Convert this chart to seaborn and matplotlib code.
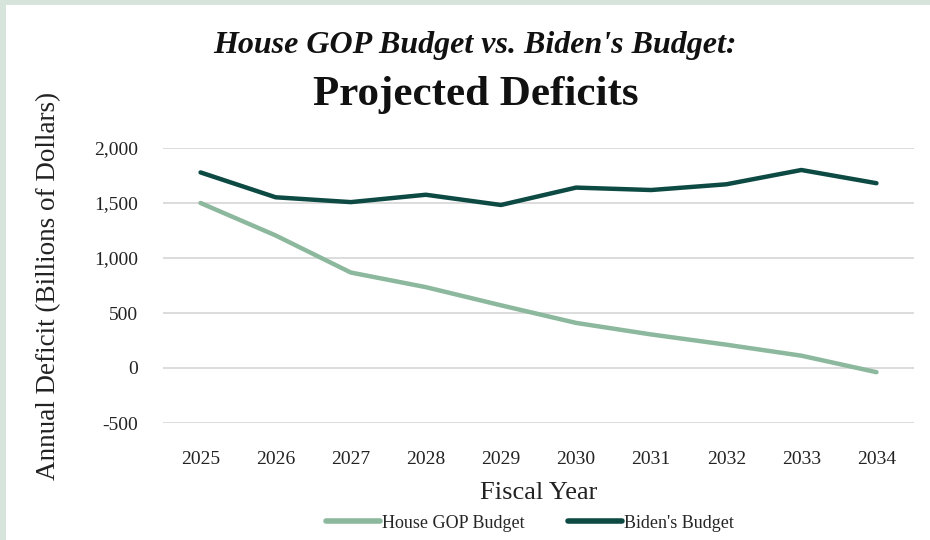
import matplotlib
matplotlib.use("Agg")
import matplotlib.pyplot as plt
import seaborn as sns
import pandas as pd
from matplotlib.patches import Rectangle
from matplotlib.lines import Line2D

years = [2025, 2026, 2027, 2028, 2029, 2030, 2031, 2032, 2033, 2034]
house_gop = [1500, 1205, 868, 735, 570, 410, 305, 212, 112, -38]
biden = [1778, 1552, 1508, 1575, 1482, 1640, 1618, 1670, 1800, 1680]
series_names = ["House GOP Budget", "Biden's Budget"]
yticks = [-500, 0, 500, 1000, 1500, 2000]
ytick_labels = ["-500", "0", "500", "1,000", "1,500", "2,000"]

df = pd.DataFrame({
    "idx": list(range(len(years))) * 2,
    "Year": years * 2,
    "Deficit": house_gop + biden,
    "Series": [series_names[0]] * len(years) + [series_names[1]] * len(years),
})

sns.set_theme(style="white")
plt.rcParams["font.family"] = ["Liberation Serif", "DejaVu Serif"]

colors = {series_names[0]: "#8cb89d", series_names[1]: "#0e4a44"}

fig = plt.figure(figsize=(9.3, 5.4), dpi=100)
fig.patch.set_facecolor("white")
# light green frame strips
fig.patches.append(Rectangle((0, 0), 6 / 930, 1, transform=fig.transFigure,
                             facecolor="#d6e4dc", edgecolor="none", zorder=0))
fig.patches.append(Rectangle((0, 1 - 5 / 540), 1, 5 / 540, transform=fig.transFigure,
                             facecolor="#d6e4dc", edgecolor="none", zorder=0))

ax = fig.add_axes([163 / 930, 1 - 423 / 540, (914 - 163) / 930, (423 - 148) / 540])
sns.lineplot(data=df, x="idx", y="Deficit", hue="Series", palette=colors,
             linewidth=3.2, ax=ax, legend=False, solid_capstyle="round")

ax.set_xlim(-0.5, len(years) - 0.5)
ax.set_ylim(-500, 2000)
ax.set_xticks(range(len(years)))
ax.set_xticklabels([str(y) for y in years], fontsize=14, color="#222222")
ax.set_yticks(yticks)
ax.set_yticklabels(ytick_labels, fontsize=14, color="#222222")
ax.tick_params(axis="x", pad=20, length=0)
ax.tick_params(axis="y", pad=18, length=0)
ax.yaxis.grid(True, color="#d9d9d9", linewidth=1.3)
ax.xaxis.grid(False)
for s in ax.spines.values():
    s.set_visible(False)
ax.set_axisbelow(True)

ax.set_xlabel("Fiscal Year", fontsize=19, color="#222222", labelpad=10)
ax.set_ylabel("Annual Deficit (Billions of Dollars)", fontsize=19.5, color="#222222", labelpad=24)

fig.text(0.511, 1 - 46 / 540, "House GOP Budget vs. Biden's Budget:", ha="center", va="center",
         fontsize=23, fontweight="bold", fontstyle="italic", color="#111111")
fig.text(0.512, 1 - 95 / 540, "Projected Deficits", ha="center", va="center",
         fontsize=31, fontweight="bold", color="#111111")

handles = [Line2D([0], [0], color=colors[n], linewidth=4, solid_capstyle="round") for n in series_names]
fig.legend(handles, series_names, loc="center", bbox_to_anchor=(0.57, 1 - 523 / 540),
           ncol=2, frameon=False, fontsize=13, handlelength=3.0, handletextpad=0.1,
           columnspacing=2.4)

fig.savefig("out.png", dpi=100, facecolor="white")
